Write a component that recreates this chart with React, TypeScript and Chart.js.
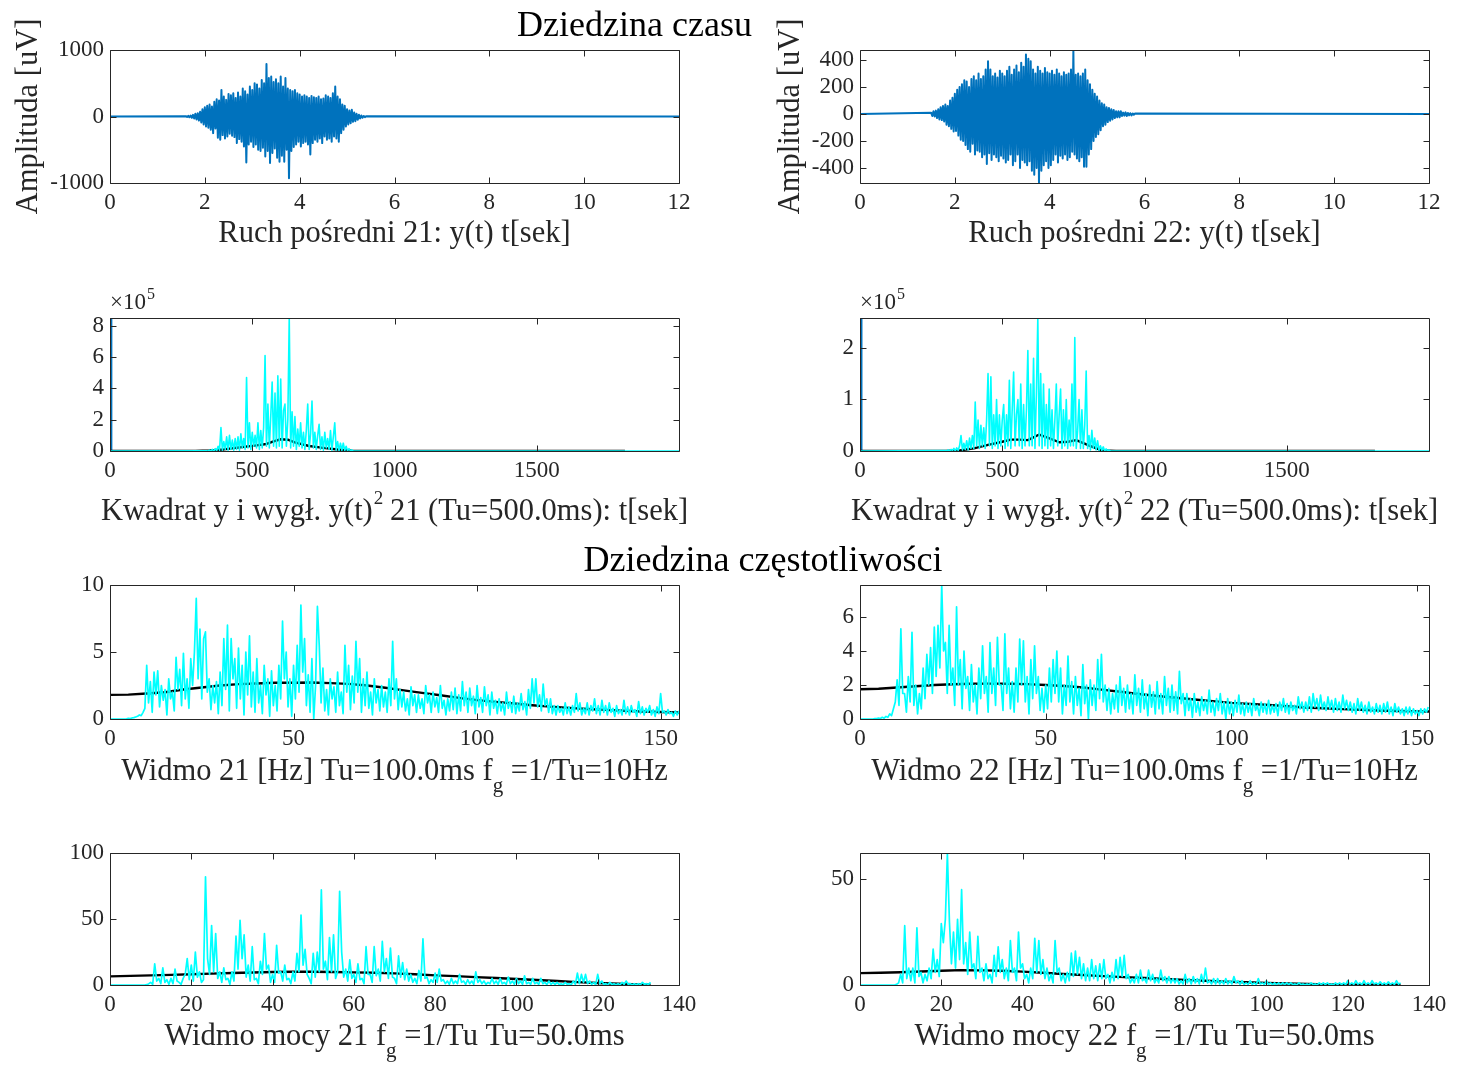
import React, { useEffect, useRef } from 'react';
import { Chart, registerables } from 'chart.js';

Chart.register(...registerables);

const W = 1461;
const H = 1074;
const FONT = "'Liberation Serif', 'Times New Roman', Times, serif";
const INK = '#262626';
const BLUE = '#0072BD';
const CYAN = '#00FFFF';
const BLACK = '#000000';

// ---------------- time-domain signals (uV), uniformly sampled ----------------
const timeEnd = 12;
const sig21Start = 1.6;
const sig21Step = 0.025;
const sig21 = [
  5, -8, 10, -12, 15, -20, 25, -30, 40, -45,
  50, -60, 70, -90, 110, -120, 140, -150, 160, -170,
  180, -200, 150, -250, 220, -180, 260, -320, 240, -350,
  400, -280, 300, -330, 250, -300, 340, -260, 320, -290,
  350, -310, 280, -400, 360, -340, 300, -380, 420, -450,
  380, -690, 330, -420, 450, -380, 400, -460, 500, -420,
  480, -500, 420, -520, 550, -470, 500, -600, 790, -520,
  580, -700, 600, -550, 520, -480, 560, -620, 500, -680,
  600, -590, 450, -680, 580, -500, 420, -930, 400, -520,
  380, -460, 400, -420, 350, -380, 330, -450, 300, -400,
  320, -380, 300, -420, 280, -570, 310, -400, 290, -350,
  280, -380, 300, -330, 260, -400, 270, -300, 320, -350,
  300, -330, 280, -380, 350, -300, 450, -330, 300, -380,
  260, -250, 180, -200, 160, -150, 110, -120, 90, -100,
  100, -80, 60, -70, 40, -50, 25, -30, 15, -20,
  8, -10, 5,
];
const sig22Start = 1.5;
const sig22Step = 0.025;
const sig22 = [
  10, -15, 20, -18, 25, -30, 35, -40, 50, -45,
  60, -55, 70, -80, 60, -90, 100, -110, 120, -130,
  150, -125, 180, -160, 200, -190, 220, -200, 250, -230,
  240, -260, 200, -280, 260, -220, 280, -300, 250, -270,
  300, -280, 260, -320, 280, -300, 330, -370, 390, -290,
  330, -340, 280, -300, 300, -320, 270, -350, 320, -310,
  300, -330, 280, -360, 320, -340, 350, -300, 290, -380,
  330, -350, 360, -300, 310, -400, 380, -340, 350, -360,
  440, -380, 410, -350, 390, -420, 330, -450, 300, -400,
  350, -510, 320, -420, 300, -380, 340, -350, 310, -400,
  300, -380, 320, -340, 290, -300, 330, -360, 300, -310,
  280, -330, 310, -300, 290, -340, 300, -320, 330, -280,
  470, -300, 290, -330, 300, -350, 280, -320, 300, -390,
  330, -390, 250, -300, 220, -260, 180, -200, 150, -170,
  130, -150, 100, -120, 80, -90, 70, -80, 50, -60,
  45, -50, 35, -40, 30, -30, 20, -25, 20, -25,
  20, -15, 10, -12, 12, -15, 8, -10, 6, -10,
  4, -5, 3,
];

// ---------------- squared signals (x 10^5), sample-index axis ----------------
const sqEnd = 2000;
const sqStep = 5;
const sq21Start = 340;
const sq21 = [
  0.02, 0, 0.05, 0.01, 0.1, 0, 0.15, 0.02, 0.3, 0.05,
  1.5, 0.05, 0.6, 0.1, 0.9, 0.05, 1.0, 0.1, 0.7, 0.05,
  0.8, 0.1, 0.9, 0.05, 1.1, 0.2, 0.8, 0.1, 4.7, 0.2,
  1.8, 0.1, 1.2, 0.3, 1.0, 0.2, 1.8, 0.1, 1.3, 0.2,
  1.5, 6.1, 0.3, 3.0, 0.2, 2.2, 4.4, 0.3, 3.7, 0.2,
  4.8, 0.3, 4.6, 0.2, 2.6, 3.0, 0.3, 2.0, 8.5, 0.2,
  2.5, 0.3, 2.2, 0.1, 1.4, 0.3, 1.8, 0.2, 1.2, 0.1,
  1.3, 3.0, 0.1, 1.1, 3.2, 0.2, 1.2, 0.1, 1.0, 1.7,
  0.1, 0.9, 0.05, 1.2, 0.2, 0.8, 0.1, 1.3, 0.05, 0.9,
  1.8, 0.05, 0.6, 0.02, 0.5, 0.05, 0.5, 0.02, 0.3, 0.01,
  0.15, 0, 0.08, 0, 0,
];
const sq22Start = 300;
const sq22 = [
  0.01, 0, 0.02, 0, 0.03, 0.01, 0.05, 0, 0.06, 0.01,
  0.1, 0.3, 0.02, 0.15, 0.03, 0.2, 0.02, 0.25, 0.05, 0.3,
  0.05, 0.95, 0.1, 0.6, 0.05, 0.5, 0.1, 0.45, 0.05, 0.6,
  1.5, 0.1, 1.44, 0.05, 0.7, 0.1, 1.0, 0.05, 0.7, 0.1,
  0.6, 0.9, 0.05, 0.7, 0.1, 1.37, 0.05, 0.8, 1.53, 0.1,
  0.7, 1.0, 0.1, 1.3, 0.05, 0.9, 0.1, 0.8, 1.95, 0.1,
  1.3, 0.1, 1.8, 0.05, 1.1, 2.58, 0.1, 1.5, 0.05, 1.3,
  0.1, 0.9, 0.05, 1.2, 0.1, 0.8, 0.05, 0.6, 1.3, 0.1,
  0.7, 1.2, 0.05, 0.8, 0.1, 1.0, 0.05, 0.6, 0.1, 1.3,
  0.1, 2.2, 0.05, 0.4, 1.0, 0.05, 0.8, 0.05, 0.5, 1.55,
  0.05, 0.3, 0.02, 0.4, 0.05, 0.25, 0.02, 0.2, 0.01, 0.1,
  0.01, 0.08, 0, 0.04, 0, 0.02, 0,
];
const smooth21X = [0, 300, 350, 400, 450, 500, 550, 575, 600, 625, 650, 700, 750, 800, 850, 900, 1810];
const smooth21Y = [0, 0, 0.03, 0.1, 0.22, 0.33, 0.45, 0.62, 0.75, 0.72, 0.55, 0.32, 0.2, 0.1, 0.02, 0, 0];
const smooth22X = [0, 300, 350, 400, 450, 500, 530, 560, 590, 630, 660, 700, 730, 760, 800, 850, 900, 1810];
const smooth22Y = [0, 0, 0.01, 0.05, 0.12, 0.18, 0.22, 0.22, 0.21, 0.32, 0.26, 0.17, 0.18, 0.21, 0.12, 0.01, 0, 0];
// squared signal against seconds (0-12) - squeezed at the left edge
const blue21T = [0, 1.7, 3.3, 3.78, 4.2, 5.4, 12];
const blue21Y = [0, 0, 6.2, 8.6, 3.2, 0, 0];
const blue22T = [0, 1.5, 2.7, 3.75, 4.55, 5.8, 12];
const blue22Y = [0, 0, 1.5, 2.6, 2.2, 0, 0];

// ---------------- spectra, 0.5 Hz bins ----------------
const specStep = 0.5;
const spec21 = [
  0, 0, 0, 0, 0, 0, 0, 0, 0, 0.02,
  0.05, 0.03, 0.08, 0.1, 0.15, 0.2, 0.3, 0.25, 0.5, 0.8,
  4.0, 1.2, 2.8, 0.5, 3.5, 1.8, 3.6, 0.9, 2.5, 1.4,
  2.2, 0.3, 3.0, 1.5, 2.0, 0.6, 4.6, 2.2, 3.7, 1.0,
  4.9, 1.5, 3.0, 0.8, 4.5, 2.5, 5.0, 9.0, 3.0, 6.7,
  1.5, 6.0, 6.5, 2.0, 3.0, 0.7, 2.5, 1.2, 2.8, 0.4,
  3.5, 1.0, 6.0, 2.2, 7.0, 0.6, 6.0, 3.0, 4.5, 0.8,
  5.3, 1.5, 4.0, 0.3, 5.0, 1.8, 6.2, 0.9, 3.5, 0.5,
  4.5, 1.2, 2.5, 0.4, 4.0, 1.8, 3.0, 0.2, 3.6, 1.0,
  2.5, 0.6, 4.0, 1.5, 7.3, 3.0, 5.0, 0.9, 3.0, 0.2,
  4.0, 1.5, 5.5, 2.0, 8.5, 3.5, 6.0, 1.0, 3.3, 0.5,
  4.5, 0.0, 2.5, 8.4, 5.5, 1.2, 3.8, 0.6, 2.2, 0.3,
  3.0, 1.5, 2.4, 0.5, 3.5, 1.0, 2.0, 0.4, 5.5, 2.0,
  4.0, 0.7, 3.2, 1.2, 5.8, 2.0, 4.5, 0.5, 3.0, 1.0,
  3.5, 0.8, 2.0, 0.3, 3.0, 1.2, 2.2, 0.6, 2.5, 0.9,
  2.0, 0.5, 3.0, 1.0, 5.8, 1.5, 3.0, 0.7, 2.2, 0.9,
  2.0, 0.6, 1.5, 0.3, 2.4, 1.0, 1.8, 0.5, 1.8, 0.8,
  1.5, 0.4, 2.5, 1.2, 1.8, 0.5, 2.0, 0.9, 1.6, 0.5,
  2.5, 0.8, 1.4, 0.3, 1.5, 0.6, 2.0, 0.7, 2.3, 0.4,
  1.8, 0.6, 2.8, 1.0, 2.0, 0.5, 2.3, 1.0, 1.7, 0.4,
  2.5, 0.9, 1.6, 0.5, 2.4, 1.0, 1.8, 0.3, 2.0, 0.8,
  1.4, 0.4, 1.5, 0.6, 1.2, 0.3, 2.0, 0.8, 1.3, 0.5,
  1.7, 0.4, 1.2, 0.6, 1.9, 0.7, 1.3, 0.3, 2.2, 0.8,
  3.0, 1.2, 3.0, 0.9, 1.8, 0.6, 2.6, 1.0, 1.5, 0.5,
  1.5, 0.4, 1.0, 0.3, 1.0, 0.5, 0.8, 0.3, 1.2, 0.4,
  0.9, 0.3, 1.0, 0.5, 1.9, 0.6, 1.2, 0.3, 0.8, 0.4,
  1.2, 0.3, 1.0, 0.6, 1.5, 0.4, 1.0, 0.3, 1.4, 0.5,
  1.0, 0.3, 1.2, 0.5, 0.8, 0.2, 1.0, 0.4, 0.7, 0.3,
  1.4, 0.4, 0.9, 0.3, 1.0, 0.5, 0.7, 0.2, 1.3, 0.4,
  0.9, 0.3, 0.8, 0.5, 1.0, 0.3, 0.7, 0.2, 0.9, 0.4,
  1.9, 0.5, 0.6, 0.3, 0.7, 0.4, 0.5, 0.2, 0.6, 0.3,
  0.6,
];
const spec22 = [
  0, 0, 0, 0, 0, 0, 0, 0, 0.02, 0.03,
  0.05, 0.03, 0.1, 0.05, 0.15, 0.1, 0.3, 0.2, 0.6, 1.0,
  2.3, 0.8, 5.3, 1.5, 1.5, 0.4, 2.5, 1.0, 5.1, 0.8,
  2.0, 0.3, 1.5, 0.6, 3.0, 1.2, 3.8, 2.0, 4.2, 1.5,
  5.4, 2.5, 5.5, 3.0, 7.9, 4.0, 4.5, 1.5, 5.5, 2.0,
  3.0, 0.8, 6.6, 2.0, 3.5, 0.6, 4.0, 1.8, 2.5, 0.5,
  3.2, 1.0, 2.0, 0.3, 3.0, 1.2, 4.3, 1.5, 2.5, 0.4,
  4.5, 1.5, 3.0, 0.8, 4.8, 2.0, 2.0, 0.5, 5.0, 1.5,
  3.0, 0.6, 2.2, 0.4, 3.0, 1.0, 4.7, 2.0, 4.6, 1.0,
  2.5, 0.3, 3.5, 1.2, 4.3, 1.5, 2.5, 0.5, 1.8, 0.4,
  2.0, 0.6, 3.0, 1.0, 3.5, 1.5, 4.0, 1.0, 3.0, 0.3,
  2.0, 0.8, 3.7, 1.0, 2.2, 0.3, 2.5, 0.8, 1.8, 0.2,
  3.2, 0.9, 2.0, 0.0, 2.3, 0.8, 2.0, 0.5, 3.5, 1.2,
  3.8, 1.0, 2.0, 0.5, 1.8, 0.3, 1.5, 0.6, 2.0, 0.4,
  2.5, 0.8, 1.8, 0.4, 2.0, 0.6, 1.5, 0.3, 2.6, 0.8,
  1.8, 0.4, 2.3, 0.6, 1.5, 0.2, 2.0, 0.7, 1.6, 0.3,
  2.2, 0.6, 1.5, 0.3, 2.5, 0.8, 1.8, 0.4, 2.0, 0.5,
  1.6, 0.3, 2.8, 0.9, 1.5, 0.2, 1.5, 0.5, 1.2, 0.1,
  1.5, 0.4, 1.0, 0.2, 1.3, 0.5, 1.1, 0.3, 1.7, 0.4,
  1.0, 0.2, 1.2, 0.5, 1.5, 0.3, 1.0, 0.0, 1.2, 0.3,
  1.0, 0.2, 1.1, 0.4, 1.4, 0.3, 0.9, 0.2, 1.0, 0.4,
  0.9, 0.2, 1.2, 0.5, 0.8, 0.2, 1.0, 0.4, 0.9, 0.3,
  1.1, 0.3, 0.8, 0.4, 0.9, 0.2, 1.0, 0.5, 1.2, 0.4,
  0.9, 0.3, 1.0, 0.5, 0.8, 0.3, 1.3, 0.6, 1.0, 0.4,
  1.0, 0.5, 1.3, 0.4, 1.5, 0.7, 1.2, 0.5, 1.4, 0.6,
  1.0, 0.5, 1.3, 0.6, 1.1, 0.4, 1.2, 0.5, 1.0, 0.4,
  1.4, 0.6, 1.1, 0.5, 1.0, 0.4, 0.9, 0.3, 1.2, 0.5,
  1.0, 0.4, 0.8, 0.3, 1.0, 0.4, 0.7, 0.3, 0.9, 0.4,
  0.8, 0.3, 0.9, 0.4, 1.0, 0.3, 0.7, 0.2, 0.9, 0.4,
  0.7, 0.3, 0.6, 0.2, 0.7, 0.3, 0.7, 0.2, 0.6, 0.3,
  0.5, 0.2, 0.6, 0.3, 0.6, 0.4, 0.7,
];
const specSmoothF = [0, 5, 10, 15, 20, 25, 30, 35, 40, 45, 50, 55, 60, 65, 70, 75, 80, 85, 90, 95, 100, 105, 110, 115, 120, 125, 130, 135, 140, 145, 150, 155];
const spec21Smooth = [1.8, 1.82, 1.9, 2.0, 2.2, 2.35, 2.5, 2.6, 2.65, 2.7, 2.7, 2.72, 2.68, 2.62, 2.5, 2.33, 2.14, 1.95, 1.77, 1.58, 1.41, 1.28, 1.16, 1.03, 0.92, 0.83, 0.75, 0.68, 0.62, 0.56, 0.52, 0.49];
const spec22Smooth = [1.75, 1.78, 1.85, 1.93, 2.0, 2.04, 2.07, 2.08, 2.07, 2.05, 2.0, 1.94, 1.85, 1.73, 1.6, 1.47, 1.35, 1.25, 1.15, 1.05, 0.95, 0.88, 0.82, 0.75, 0.68, 0.63, 0.58, 0.54, 0.5, 0.47, 0.45, 0.44];

// ---------------- power spectra, 0.5 Hz bins ----------------
const pow21 = [
  0, 0, 0, 0, 0, 0, 0, 0, 0, 0,
  0, 0, 0, 0, 0, 0, 0, 0, 0.3, 0.8,
  2, 0.5, 16, 3, 5, 1, 13, 2, 4, 0.5,
  5, 1, 12, 3, 2, 0.5, 5, 8, 20, 4,
  15, 3, 25, 6, 10, 2, 4, 82, 20, 8,
  45, 10, 39, 5, 10, 2, 13, 4, 5, 0.5,
  10, 3, 37, 12, 49, 20, 38, 6, 15, 3,
  29, 4, 5, 1, 18, 8, 39, 12, 15, 2,
  8, 2, 30, 9, 10, 3, 15, 4, 5, 1,
  10, 3, 24, 10, 53, 15, 27, 8, 5, 1,
  24, 6, 25, 10, 72, 12, 18, 4, 36, 10,
  38, 5, 10, 71, 25, 6, 12, 3, 19, 5,
  8, 2, 16, 4, 5, 1, 29, 8, 8, 2,
  29, 7, 12, 3, 33, 10, 20, 5, 28, 6,
  5, 1, 22, 6, 17, 4, 12, 3, 8, 2,
  5, 1, 11, 3, 35, 5, 6, 1, 4, 2,
  9, 2, 12, 3, 4, 1, 3, 0.5, 5, 1,
  3, 1, 8, 2, 3, 0.5, 4, 1, 3, 0.5,
  10, 2, 4, 1, 3, 0.5, 2, 1, 5, 1,
  3, 0.5, 5, 1, 2, 0.5, 6, 1, 3, 0.5,
  5, 1, 3, 0.5, 7, 1, 2, 0.5, 5, 1,
  2, 0.5, 5, 1, 2, 0.3, 3, 0.5, 2, 0.3,
  2, 0.3, 1, 0.2, 2, 0.5, 1, 0.2, 3, 0.5,
  9, 1, 8, 2, 8, 1, 3, 0.5, 2, 0.3,
  8, 1, 3, 0.5, 1, 0.2, 2, 0.3, 1, 0.2,
  1, 0.2, 2, 0.5, 3, 0.5, 1, 0.2, 1, 0.2,
  1, 0.2, 2, 0.5, 1, 0.3, 2,
];
const pow22 = [
  0, 0, 0, 0, 0, 0, 0, 0, 0, 0,
  0, 0, 0, 0, 0, 0, 0, 0, 0.3, 1,
  5, 1, 28, 3, 8, 2, 8, 1, 27, 4,
  6, 1, 5, 2, 8, 3, 17, 6, 12, 4,
  29, 20, 31, 62, 30, 10, 25, 8, 31, 12,
  45, 10, 20, 5, 25, 8, 10, 3, 23, 6,
  8, 2, 10, 3, 5, 1, 14, 4, 18, 6,
  12, 3, 8, 2, 21, 6, 8, 2, 25, 8,
  10, 3, 5, 1, 8, 3, 22, 6, 21, 5,
  12, 3, 8, 2, 5, 1, 21, 6, 8, 2,
  5, 1, 6, 2, 15, 4, 16, 5, 13, 3,
  10, 2, 8, 2, 12, 3, 9, 2, 10, 3,
  12, 3, 5, 1, 6, 2, 12, 3, 13, 4,
  14, 3, 5, 1, 3, 1, 5, 1, 7, 2,
  3, 1, 7, 2, 5, 1, 3, 1, 7, 2,
  4, 1, 4, 1, 3, 1, 3, 0.5, 2, 0.5,
  5, 1, 3, 0.5, 4, 1, 3, 0.5, 5, 1,
  8, 1, 2, 0.5, 3, 0.5, 3, 0.5, 2, 0.5,
  3, 0.5, 2, 0.5, 4, 1, 2, 0.3, 2, 0.3,
  1, 0.3, 2, 0.3, 1, 0.2, 3, 0.5, 1, 0.2,
  2, 0.3, 1, 0.2, 1, 0.2, 1, 0.2, 1, 0.2,
  1, 0.2, 1, 0.2, 0.5, 0.1, 1, 0.2, 0.5, 0.1,
  0.5, 0.1, 1, 0.2, 0.5, 0.1, 1, 0.2, 1, 0.2,
  1, 0.2, 0.5, 0.1, 1, 0.2, 1, 0.2, 1, 0.2,
  2, 0.3, 1, 0.3, 2, 0.4, 1, 0.2, 2, 0.3,
  1, 0.3, 2, 0.5, 1, 0.2, 1.5, 0.3, 1, 0.2,
  1.5, 0.3, 1, 0.3, 2, 0.4, 1,
];
const powSmoothF = [0, 5, 10, 15, 20, 25, 30, 35, 40, 45, 50, 55, 60, 65, 70, 75, 80, 85, 90, 95, 100, 105, 110, 115, 120, 125, 130, 133];
const pow21Smooth = [6.5, 6.9, 7.3, 7.7, 8.1, 8.6, 9.1, 9.5, 9.8, 10.0, 10.0, 9.9, 9.6, 9.3, 8.8, 8.1, 7.3, 6.7, 6.0, 5.3, 4.5, 3.8, 3.0, 2.2, 1.5, 0.9, 0.5, 0.3];
const pow22Smooth = [5.6, 5.8, 6.0, 6.4, 6.7, 7.0, 6.9, 6.7, 6.3, 5.8, 5.2, 4.7, 4.2, 3.7, 3.3, 2.8, 2.4, 2.0, 1.6, 1.3, 1.0, 0.7, 0.5, 0.3, 0.2, 0.15, 0.1, 0.1];

// ---------------- ticks ----------------
const timeTicks = [0, 2, 4, 6, 8, 10, 12];
const amp21Ticks = [-1000, 0, 1000];
const amp22Ticks = [-400, -200, 0, 200, 400];
const sampleTicks = [0, 500, 1000, 1500];
const sq21Ticks = [0, 2, 4, 6, 8];
const sq22Ticks = [0, 1, 2];
const freqTicks = [0, 50, 100, 150];
const spec21Ticks = [0, 5, 10];
const spec22Ticks = [0, 2, 4, 6];
const powFreqTicks = [0, 20, 40, 60, 80, 100, 120, 140];
const pow21Ticks = [0, 50, 100];
const pow22Ticks = [0, 50];

// ---------------- helpers ----------------
type Pt = { x: number; y: number };
const uniform = (vals: number[], x0: number, dx: number): Pt[] => vals.map((v, i) => ({ x: x0 + i * dx, y: v }));
const paired = (xs: number[], ys: number[]): Pt[] => xs.map((x, i) => ({ x, y: ys[i] }));
const withEnds = (pts: Pt[], x0: number, x1: number): Pt[] => [{ x: x0, y: 0 }, ...pts, { x: x1, y: 0 }];

const line = (data: Pt[], color: string, width: number) => ({
  data,
  borderColor: color,
  backgroundColor: color,
  borderWidth: width,
  borderJoinStyle: 'round' as const,
  pointRadius: 0,
  pointHoverRadius: 0,
  fill: false,
  tension: 0,
});

interface Seg { t: string; kind?: 'sub' | 'sup' }
interface PanelCfg {
  plot: [number, number, number, number]; // left, top, right, bottom (page px)
  xRange: [number, number];
  xTicks: number[];
  yRange: [number, number];
  yTicks: number[];
  datasets: () => any[];
  xLabel: Seg[];
  xLabelBaseline: number;
  yLabel?: string;
  yLabelBaseline?: number;
  exponent?: boolean;
  heading?: { text: string; cx: number; baseline: number };
}

const LABEL_SIZE = 30.5;
const SUB_SIZE = 21;
const SUP_SIZE = 19;
const TICK_SIZE = 23;

const panels: PanelCfg[] = [
  {
    plot: [110, 50, 679, 183], xRange: [0, 12], xTicks: timeTicks, yRange: [-1000, 1000], yTicks: amp21Ticks,
    datasets: () => [line(withEnds(uniform(sig21, sig21Start, sig21Step), 0, timeEnd), BLUE, 2)],
    xLabel: [{ t: 'Ruch pośredni 21: y(t) t[sek]' }], xLabelBaseline: 242,
    yLabel: 'Amplituda [uV]', yLabelBaseline: 37,
    heading: { text: 'Dziedzina czasu', cx: 634.5, baseline: 36 },
  },
  {
    plot: [860, 50, 1429, 183], xRange: [0, 12], xTicks: timeTicks, yRange: [-511, 474], yTicks: amp22Ticks,
    datasets: () => [line(withEnds(uniform(sig22, sig22Start, sig22Step), 0, timeEnd), BLUE, 2)],
    xLabel: [{ t: 'Ruch pośredni 22: y(t) t[sek]' }], xLabelBaseline: 242,
    yLabel: 'Amplituda [uV]', yLabelBaseline: 799,
  },
  {
    plot: [110, 318, 679, 451], xRange: [0, sqEnd], xTicks: sampleTicks, yRange: [0, 8.5], yTicks: sq21Ticks,
    datasets: () => [
      line(withEnds(uniform(sq21, sq21Start, sqStep), 0, sqEnd), CYAN, 1.6),
      line(paired(smooth21X, smooth21Y), BLACK, 2.4),
      line(paired(blue21T, blue21Y), BLUE, 2),
    ],
    xLabel: [{ t: 'Kwadrat y i wygł. y(t)' }, { t: '2', kind: 'sup' }, { t: ' 21 (Tu=500.0ms): t[sek]' }],
    xLabelBaseline: 520, exponent: true,
  },
  {
    plot: [860, 318, 1429, 451], xRange: [0, sqEnd], xTicks: sampleTicks, yRange: [0, 2.58], yTicks: sq22Ticks,
    datasets: () => [
      line(withEnds(uniform(sq22, sq22Start, sqStep), 0, sqEnd), CYAN, 1.6),
      line(paired(smooth22X, smooth22Y), BLACK, 2.4),
      line(paired(blue22T, blue22Y), BLUE, 2),
    ],
    xLabel: [{ t: 'Kwadrat y i wygł. y(t)' }, { t: '2', kind: 'sup' }, { t: ' 22 (Tu=500.0ms): t[sek]' }],
    xLabelBaseline: 520, exponent: true,
  },
  {
    plot: [110, 585, 679, 719], xRange: [0, 155], xTicks: freqTicks, yRange: [0, 10], yTicks: spec21Ticks,
    datasets: () => [
      line(uniform(spec21, 0, specStep), CYAN, 1.7),
      line(paired(specSmoothF, spec21Smooth), BLACK, 2.4),
    ],
    xLabel: [{ t: 'Widmo 21 [Hz] Tu=100.0ms f' }, { t: 'g', kind: 'sub' }, { t: ' =1/Tu=10Hz' }],
    xLabelBaseline: 780,
    heading: { text: 'Dziedzina częstotliwości', cx: 763, baseline: 571 },
  },
  {
    plot: [860, 585, 1429, 719], xRange: [0, 153.2], xTicks: freqTicks, yRange: [0, 7.88], yTicks: spec22Ticks,
    datasets: () => [
      line(uniform(spec22, 0, specStep), CYAN, 1.7),
      line(paired(specSmoothF, spec22Smooth), BLACK, 2.4),
    ],
    xLabel: [{ t: 'Widmo 22 [Hz] Tu=100.0ms f' }, { t: 'g', kind: 'sub' }, { t: ' =1/Tu=10Hz' }],
    xLabelBaseline: 780,
  },
  {
    plot: [110, 853, 679, 985], xRange: [0, 140], xTicks: powFreqTicks, yRange: [0, 100], yTicks: pow21Ticks,
    datasets: () => [
      line(uniform(pow21, 0, specStep), CYAN, 1.7),
      line(paired(powSmoothF, pow21Smooth), BLACK, 2.4),
    ],
    xLabel: [{ t: 'Widmo mocy 21 f' }, { t: 'g', kind: 'sub' }, { t: ' =1/Tu Tu=50.0ms' }],
    xLabelBaseline: 1045,
  },
  {
    plot: [860, 853, 1429, 985], xRange: [0, 140], xTicks: powFreqTicks, yRange: [0, 62.3], yTicks: pow22Ticks,
    datasets: () => [
      line(uniform(pow22, 0, specStep), CYAN, 1.7),
      line(paired(powSmoothF, pow22Smooth), BLACK, 2.4),
    ],
    xLabel: [{ t: 'Widmo mocy 22 f' }, { t: 'g', kind: 'sub' }, { t: ' =1/Tu Tu=50.0ms' }],
    xLabelBaseline: 1045,
  },
];

const fontFor = (kind?: 'sub' | 'sup') =>
  `${kind === 'sub' ? SUB_SIZE : kind === 'sup' ? SUP_SIZE : LABEL_SIZE}px ${FONT}`;

function drawRich(ctx: CanvasRenderingContext2D, segs: Seg[], cx: number, baseline: number) {
  const widths = segs.map((s) => {
    ctx.font = fontFor(s.kind);
    return ctx.measureText(s.t).width;
  });
  const total = widths.reduce((a, b) => a + b, 0);
  let x = cx - total / 2;
  ctx.textAlign = 'left';
  ctx.textBaseline = 'alphabetic';
  segs.forEach((s, i) => {
    ctx.font = fontFor(s.kind);
    const dy = s.kind === 'sub' ? 12 : s.kind === 'sup' ? -16 : 0;
    ctx.fillText(s.t, x + (s.kind === 'sup' ? 1 : 0), baseline + dy);
    x += widths[i];
  });
}

function makeFramePlugin(cfg: PanelCfg) {
  return {
    id: 'matlabFrame',
    afterDraw(chart: any) {
      const { ctx, chartArea: a } = chart;
      const xs = chart.scales.x;
      const ys = chart.scales.y;
      const L = Math.round(a.left) + 0.5;
      const R = Math.round(a.right) + 0.5;
      const T = Math.round(a.top) + 0.5;
      const B = Math.round(a.bottom) + 0.5;
      const tl = 6;
      ctx.save();
      ctx.strokeStyle = INK;
      ctx.lineWidth = 1;
      ctx.beginPath();
      ctx.rect(L, T, R - L, B - T);
      cfg.xTicks.forEach((v) => {
        const px = Math.round(xs.getPixelForValue(v)) + 0.5;
        ctx.moveTo(px, B); ctx.lineTo(px, B - tl);
        ctx.moveTo(px, T); ctx.lineTo(px, T + tl);
      });
      cfg.yTicks.forEach((v) => {
        const py = Math.round(ys.getPixelForValue(v)) + 0.5;
        ctx.moveTo(L, py); ctx.lineTo(L + tl, py);
        ctx.moveTo(R, py); ctx.lineTo(R - tl, py);
      });
      ctx.stroke();

      ctx.fillStyle = INK;
      drawRich(ctx, cfg.xLabel, (a.left + a.right) / 2, cfg.xLabelBaseline);

      if (cfg.yLabel && cfg.yLabelBaseline !== undefined) {
        ctx.save();
        ctx.translate(cfg.yLabelBaseline, (a.top + a.bottom) / 2);
        ctx.rotate(-Math.PI / 2);
        ctx.font = `${LABEL_SIZE}px ${FONT}`;
        ctx.textAlign = 'center';
        ctx.textBaseline = 'alphabetic';
        ctx.fillText(cfg.yLabel, 0, 0);
        ctx.restore();
      }

      if (cfg.exponent) {
        ctx.textAlign = 'left';
        ctx.textBaseline = 'alphabetic';
        ctx.font = `${TICK_SIZE}px ${FONT}`;
        const base = '\u00d710';
        ctx.fillText(base, a.left, a.top - 9);
        const w = ctx.measureText(base).width;
        ctx.font = `16px ${FONT}`;
        ctx.fillText('5', a.left + w + 1, a.top - 19);
      }

      if (cfg.heading) {
        ctx.fillStyle = '#000000';
        ctx.font = `36px ${FONT}`;
        ctx.textAlign = 'center';
        ctx.textBaseline = 'alphabetic';
        ctx.fillText(cfg.heading.text, cfg.heading.cx, cfg.heading.baseline);
      }
      ctx.restore();
    },
  };
}

function Panel({ cfg }: { cfg: PanelCfg }) {
  const ref = useRef<HTMLCanvasElement>(null);
  useEffect(() => {
    const canvas = ref.current;
    if (!canvas) return;
    const [pl, pt, pr, pb] = cfg.plot;
    const tickFont = { family: FONT, size: TICK_SIZE };
    const chart = new Chart(canvas, {
      type: 'line',
      data: { datasets: cfg.datasets() },
      options: {
        animation: false,
        responsive: false,
        maintainAspectRatio: false,
        devicePixelRatio: 1,
        events: [],
        layout: { padding: { left: 0, top: pt, right: W - pr, bottom: 0 } },
        plugins: { legend: { display: false }, tooltip: { enabled: false }, title: { display: false } },
        scales: {
          x: {
            type: 'linear',
            position: 'bottom',
            min: cfg.xRange[0],
            max: cfg.xRange[1],
            grid: { display: false, drawTicks: false },
            border: { display: false },
            ticks: {
              autoSkip: false, maxRotation: 0, minRotation: 0, padding: 6,
              color: INK, font: tickFont, callback: (v: any) => String(v),
            },
            afterBuildTicks: (s: any) => { s.ticks = cfg.xTicks.map((value) => ({ value })); },
            afterFit: (s: any) => { s.height = H - pb; },
          },
          y: {
            type: 'linear',
            position: 'left',
            min: cfg.yRange[0],
            max: cfg.yRange[1],
            grid: { display: false, drawTicks: false },
            border: { display: false },
            ticks: {
              autoSkip: false, padding: 6,
              color: INK, font: tickFont, callback: (v: any) => String(v),
            },
            afterBuildTicks: (s: any) => { s.ticks = cfg.yTicks.map((value) => ({ value })); },
            afterFit: (s: any) => { s.width = pl; },
          },
        },
      } as any,
      plugins: [makeFramePlugin(cfg)],
    });
    return () => chart.destroy();
  }, [cfg]);
  return (
    <canvas
      ref={ref}
      width={W}
      height={H}
      style={{ position: 'absolute', left: 0, top: 0, width: W, height: H }}
    />
  );
}

export default function App() {
  return (
    <div style={{ position: 'absolute', left: 0, top: 0, width: W, height: H, background: '#ffffff', overflow: 'hidden' }}>
      {panels.map((p, i) => (
        <Panel key={i} cfg={p} />
      ))}
    </div>
  );
}
